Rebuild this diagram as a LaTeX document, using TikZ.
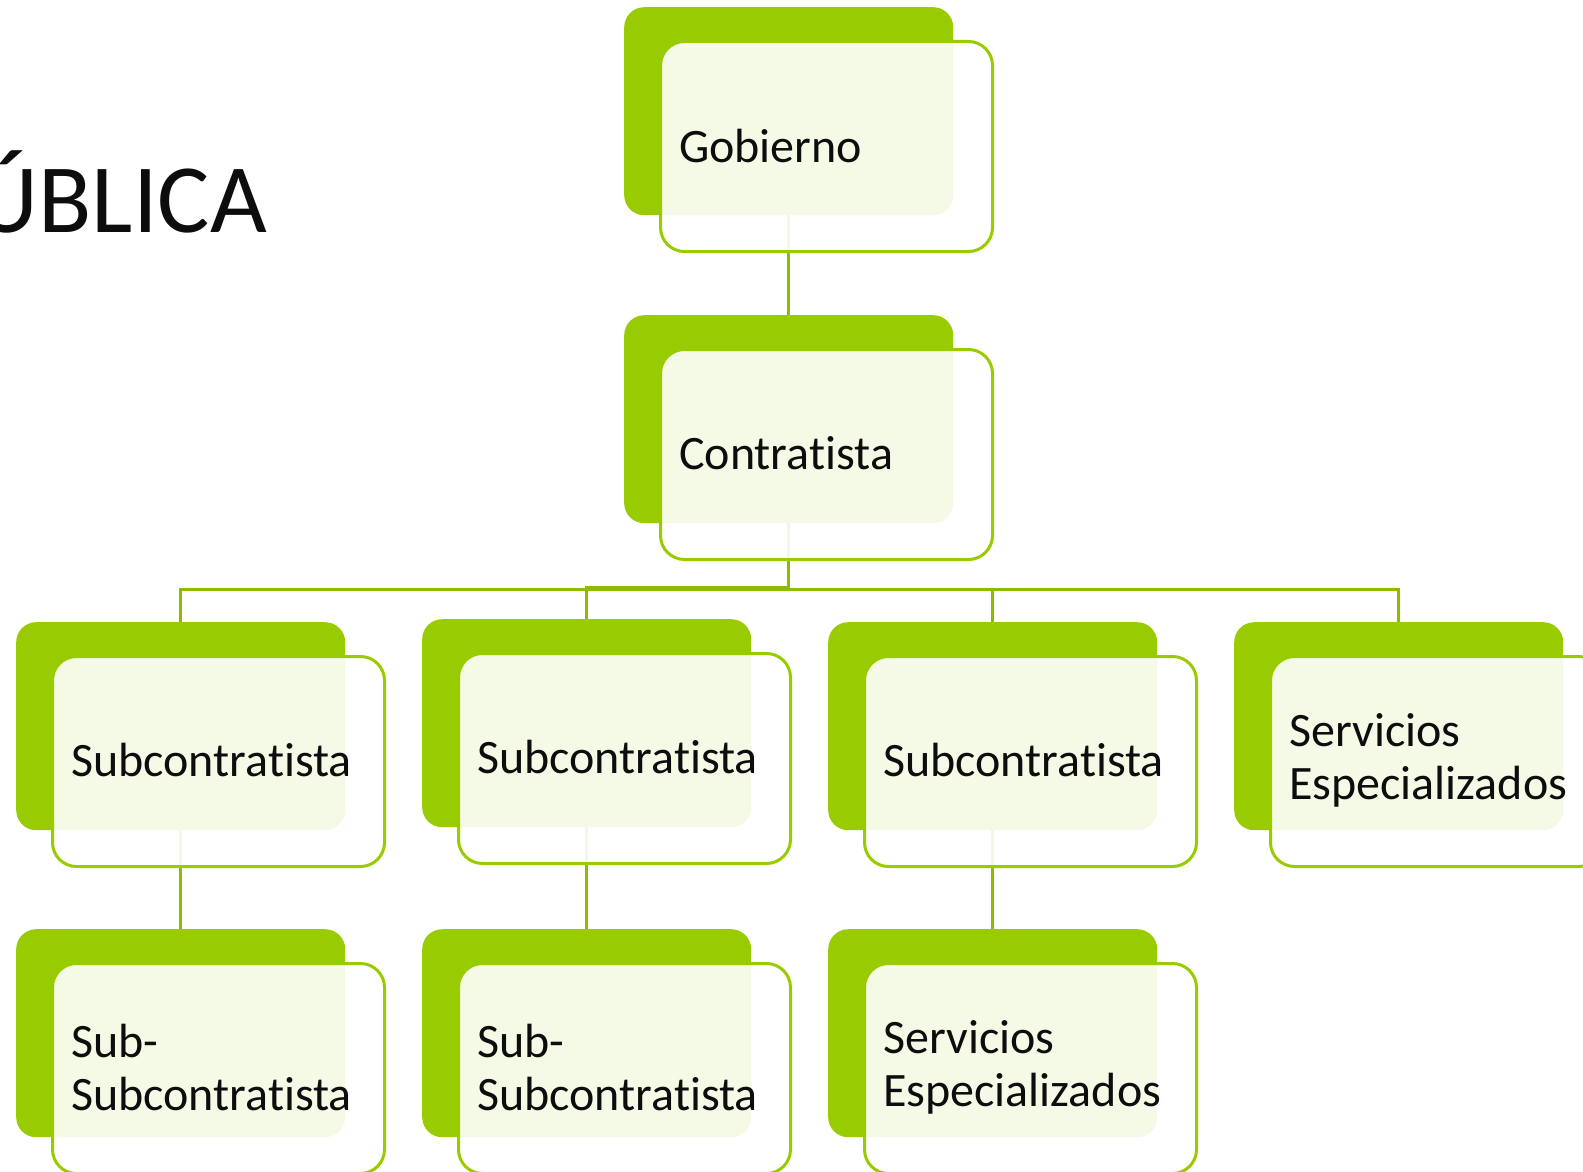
\documentclass[tikz,border=0pt]{standalone}
\usepackage{fontspec}
\setmainfont{Carlito}[Ligatures=NoCommon]
\usetikzlibrary{backgrounds}
\definecolor{lime}{HTML}{99CC00}
\definecolor{conncol}{HTML}{8DBB00}
\definecolor{ink}{HTML}{0D0D0D}
\tikzset{
  backbox/.style={rectangle, rounded corners=20pt, fill=lime, minimum width=329pt, minimum height=208pt, anchor=north west, inner sep=0pt},
  frontbox/.style={rectangle, rounded corners=24pt, draw=lime, line width=3pt, fill=white, fill opacity=0.9, minimum width=332pt, minimum height=210pt, anchor=north west, inner sep=0pt},
  boxtext/.style={anchor=west, align=left, font=\fontsize{48}{53}\selectfont, inner sep=0pt, text=ink},
  connline/.style={draw=conncol, line width=3pt}
}
\newcommand\orgunit[4]{%
  \node[backbox] (#1B) at (#2,#3) {};
  \node[frontbox] (#1F) at (#2+35,#3+33) {};
  \node[boxtext] (#1T) at ([xshift=20pt,yshift=1pt]#1F.west) {#4};
}
\begin{document}
\begin{tikzpicture}[x=1pt,y=-1pt]
\useasboundingbox (0,0) rectangle (1583,1172);
\clip (0,0) rectangle (1583,1172);
\node[anchor=base east, font=\fontsize{98}{110}\selectfont, text=ink, inner sep=0pt] (title) at (267,232) {ÚBLICA};
\orgunit{gob}{624}{7}{Gobierno}
\orgunit{con}{624}{315}{Contratista}
\orgunit{sa}{16}{622}{Subcontratista}
\orgunit{sb}{422}{619}{Subcontratista}
\orgunit{sc}{828}{622}{Subcontratista}
\orgunit{sd}{1234}{622}{Servicios\\Especializados}
\orgunit{ssa}{16}{929}{Sub-\\Subcontratista}
\orgunit{ssb}{422}{929}{Sub-\\Subcontratista}
\orgunit{ssc}{828}{929}{Servicios\\Especializados}
\begin{pgfonlayer}{background}
\draw[connline] (gobB.south) -- (conB.north);
\draw[connline] (conB.south) -- (conB.south |- 0,589) -| (saB.north);
\draw[connline] (conB.south) -- (conB.south |- 0,587) -| (sbB.north);
\draw[connline] (conB.south) -- (conB.south |- 0,589) -| (scB.north);
\draw[connline] (conB.south) -- (conB.south |- 0,589) -| (sdB.north);
\draw[connline] (saB.south) -- (ssaB.north);
\draw[connline] (sbB.south) -- (ssbB.north);
\draw[connline] (scB.south) -- (sscB.north);
\end{pgfonlayer}
\end{tikzpicture}
\end{document}
